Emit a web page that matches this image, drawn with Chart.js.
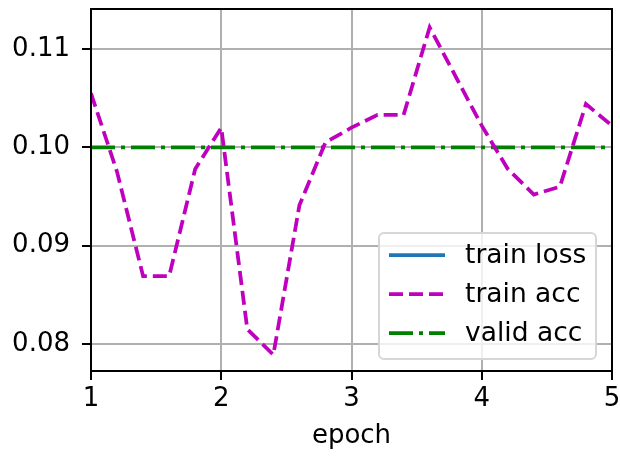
<!DOCTYPE html>
<html>
<head>
<meta charset="utf-8">
<script src="https://cdn.jsdelivr.net/npm/chart.js@4"></script>
<style>
  html, body { margin: 0; padding: 0; background: #fff; }
  #wrap { width: 620px; height: 456px; }
</style>
</head>
<body>
<div id="wrap"><canvas id="chart" width="620" height="456"></canvas></div>
<script>
// values
const epochs = [1.0, 1.2, 1.4, 1.6, 1.8, 2.0, 2.2, 2.4, 2.6, 2.8, 3.0,
                3.2, 3.4, 3.6, 3.8, 4.0, 4.2, 4.4, 4.6, 4.8, 5.0];
const trainAcc = [0.1055, 0.0975, 0.0869, 0.0869, 0.0978, 0.1020, 0.0815, 0.0789, 0.0941, 0.1005, 0.1020,
                  0.1033, 0.1033, 0.1122, 0.1072, 0.1022, 0.0978, 0.0952, 0.0960, 0.1044, 0.1022];
const validEpochs = [1, 2, 3, 4, 5];
const validAcc = [0.10, 0.10, 0.10, 0.10, 0.10];
const trainLoss = []; // off the visible range
const yTicks = [0.08, 0.09, 0.10, 0.11];
const xTicks = [1, 2, 3, 4, 5];

const FONT = 'DejaVu Sans';
const FS = 26;

function pairs(xs, ys) {
  return ys.map((y, i) => ({ x: xs[i], y: y }));
}

const DASH = [14, 6];
const DASHDOT = [24, 6, 4, 6];

const legendItems = [
  { label: 'train loss', color: '#1f77b4', dash: [] },
  { label: 'train acc', color: '#bf00bf', dash: DASH },
  { label: 'valid acc', color: '#008000', dash: DASHDOT }
];

// frame + legend box like matplotlib
const framePlugin = {
  id: 'frame',
  afterDatasetsDraw(chart) {
    const { ctx, chartArea: a } = chart;
    ctx.save();
    ctx.strokeStyle = '#000';
    ctx.lineWidth = 2;
    ctx.strokeRect(a.left, a.top, a.right - a.left, a.bottom - a.top);

    // legend
    const bx = 379, by = 233, bw = 217, bh = 126, r = 5;
    ctx.beginPath();
    ctx.moveTo(bx + r, by);
    ctx.arcTo(bx + bw, by, bx + bw, by + bh, r);
    ctx.arcTo(bx + bw, by + bh, bx, by + bh, r);
    ctx.arcTo(bx, by + bh, bx, by, r);
    ctx.arcTo(bx, by, bx + bw, by, r);
    ctx.closePath();
    ctx.fillStyle = 'rgba(255,255,255,0.8)';
    ctx.fill();
    ctx.strokeStyle = '#d6d6d6';
    ctx.lineWidth = 2;
    ctx.stroke();

    ctx.font = '26.5px "' + FONT + '"';
    ctx.textBaseline = 'middle';
    legendItems.forEach((it, i) => {
      const y = 255 + i * 39;
      ctx.beginPath();
      ctx.setLineDash(it.dash);
      ctx.strokeStyle = it.color;
      ctx.lineWidth = 3.75;
      ctx.moveTo(389, y);
      ctx.lineTo(445, y);
      ctx.stroke();
      ctx.setLineDash([]);
      ctx.fillStyle = '#000';
      ctx.fillText(it.label, 465, y + 1);
    });
    ctx.restore();
  }
};

new Chart(document.getElementById('chart'), {
  type: 'line',
  data: {
    datasets: [
      {
        label: 'train loss',
        data: trainLoss,
        borderColor: '#1f77b4',
        borderWidth: 3.75,
        pointRadius: 0
      },
      {
        label: 'train acc',
        data: pairs(epochs, trainAcc),
        borderColor: '#bf00bf',
        borderWidth: 3.75,
        borderDash: DASH,
        pointRadius: 0,
        tension: 0
      },
      {
        label: 'valid acc',
        data: pairs(validEpochs, validAcc),
        borderColor: '#008000',
        borderWidth: 3.75,
        borderDash: DASHDOT,
        pointRadius: 0,
        tension: 0
      }
    ]
  },
  options: {
    responsive: false,
    animation: false,
    devicePixelRatio: 1,
    layout: { padding: { top: 9, right: 8, left: 0, bottom: 0 } },
    plugins: {
      legend: { display: false },
      tooltip: { enabled: false }
    },
    scales: {
      x: {
        type: 'linear',
        min: 1,
        max: 5,
        afterBuildTicks(scale) {
          scale.ticks = xTicks.map(v => ({ value: v }));
        },
        afterFit(scale) {
          scale.height = 85;
          scale.paddingLeft = 0;
          scale.paddingRight = 0;
        },
        grid: {
          color: '#b0b0b0',
          lineWidth: 2,
          tickColor: '#000',
          tickLength: 9
        },
        border: { color: '#000', width: 2 },
        ticks: {
          color: '#000',
          font: { family: FONT, size: FS },
          padding: 4,
          maxRotation: 0,
          callback: v => String(v)
        },
        title: {
          display: true,
          text: 'epoch',
          color: '#000',
          font: { family: FONT, size: FS },
          padding: { top: 0 }
        }
      },
      y: {
        type: 'linear',
        min: 0.07725,
        max: 0.11407,
        afterBuildTicks(scale) {
          scale.ticks = yTicks.map(v => ({ value: v }));
        },
        afterFit(scale) {
          scale.width = 91;
          scale.paddingTop = 0;
          scale.paddingBottom = 0;
        },
        grid: {
          color: '#b0b0b0',
          lineWidth: 2,
          tickColor: '#000',
          tickLength: 9
        },
        border: { color: '#000', width: 2 },
        ticks: {
          color: '#000',
          font: { family: FONT, size: FS },
          padding: 12,
          callback: v => v.toFixed(2)
        }
      }
    }
  },
  plugins: [framePlugin]
});
</script>
</body>
</html>
